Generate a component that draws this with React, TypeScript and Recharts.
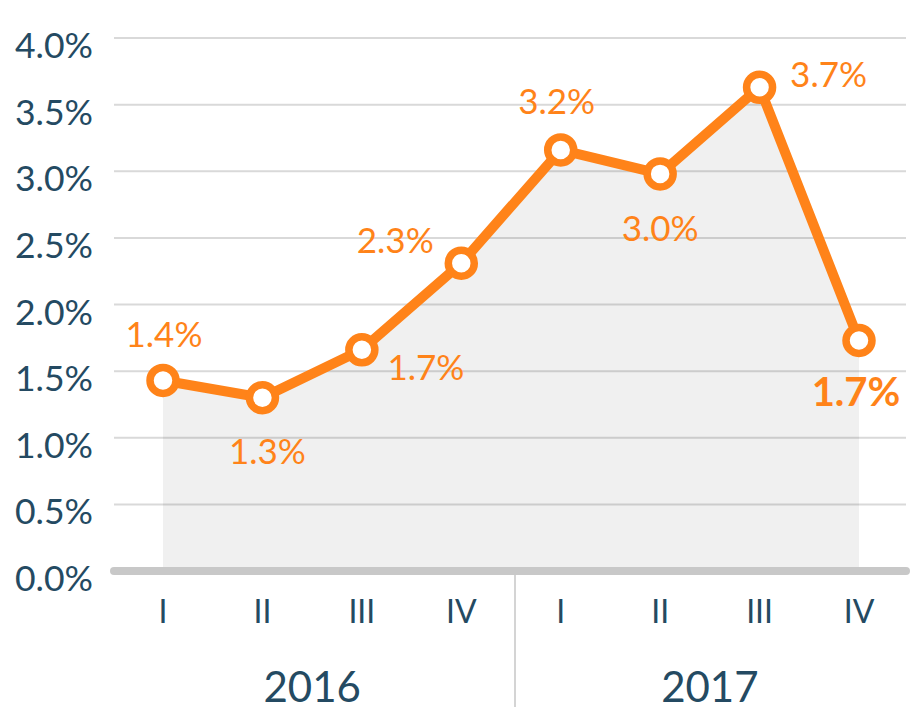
import { ComposedChart, Area, Line, XAxis, YAxis, CartesianGrid, LabelList } from "recharts";

const quarters = ["I", "II", "III", "IV", "I", "II", "III", "IV"];
const years = ["2016", "2017"];
const values = [1.43, 1.3, 1.66, 2.31, 3.16, 2.98, 3.63, 1.73];
const valueLabels = ["1.4%", "1.3%", "1.7%", "2.3%", "3.2%", "3.0%", "3.7%", "1.7%"];
const yTicks = [0, 0.5, 1, 1.5, 2, 2.5, 3, 3.5, 4];

// where each value label sits relative to its point
const labelOffsets = [
  [1, -45], [5, 54], [64, 18], [-66, -22],
  [-4, -48], [0, 55], [69, -12], [-3, 52],
];

const ORANGE = "#ff8319";
const INK = "#244a62";
const FONT = "Lato, 'Open Sans', sans-serif";

const data = values.map((v, i) => ({ q: quarters[i], pos: i, value: v }));
const perYear = quarters.length / years.length;
const yearTicks = years.map((_, i) => i * perYear + (perYear - 1) / 2);
const dividers = years.slice(1).map((_, i) => (i + 1) * perYear - 0.5);

const YTick = ({ x, y, payload }: any) => (
  <text x={x} y={y + 20} textAnchor="end" fill={INK} fontSize={35.5} fontFamily={FONT}>
    {payload.value.toFixed(1)}%
  </text>
);

const QuarterTick = ({ x, y, payload }: any) => (
  <text x={x} y={y + 52} textAnchor="middle" fill={INK} fontSize={32} fontFamily={FONT}>
    {payload.value}
  </text>
);

const YearTick = ({ x, y, payload }: any) => {
  const v = payload.value;
  if (dividers.includes(v)) {
    return <line x1={x + 4} x2={x + 4} y1={y - 76} y2={y + 56} stroke="#d4d4d4" strokeWidth={2} />;
  }
  const idx = yearTicks.indexOf(v);
  return (
    <text x={x} y={y + 51} textAnchor="middle" fill={INK} fontSize={42} fontFamily={FONT}>
      {years[idx]}
    </text>
  );
};

const ValueLabel = ({ x, y, index }: any) => {
  const [dx, dy] = labelOffsets[index];
  const last = index === values.length - 1;
  return (
    <text
      x={x + dx}
      y={y + dy + (last ? 14 : 12)}
      textAnchor="middle"
      fill={ORANGE}
      fontSize={last ? 40 : 35}
      fontWeight={last ? 700 : 400}
      fontFamily={FONT}
    >
      {valueLabels[index]}
    </text>
  );
};

export default function App() {
  return (
    <div style={{ position: "absolute", left: 0, top: 0, width: 911, height: 711, background: "#fff" }}>
      <ComposedChart width={911} height={711} data={data} margin={{ top: 38, right: 5, left: 0, bottom: 0 }}>
        <CartesianGrid vertical={false} stroke="#d9d9d9" strokeWidth={2} />
        <YAxis
          width={114}
          domain={[0, 4]}
          ticks={yTicks}
          axisLine={false}
          tickLine={false}
          tickSize={0}
          tickMargin={21}
          tick={<YTick />}
        />
        <XAxis
          dataKey="q"
          height={80}
          padding={{ left: 49, right: 47 }}
          axisLine={{ stroke: "#c8c8c8", strokeWidth: 8, strokeLinecap: "round" }}
          tickLine={false}
          tickSize={0}
          tickMargin={0}
          interval={0}
          tick={<QuarterTick />}
        />
        <XAxis
          xAxisId="year"
          type="number"
          dataKey="pos"
          domain={[0, quarters.length - 1]}
          ticks={[...yearTicks, ...dividers]}
          height={60}
          padding={{ left: 49, right: 47 }}
          axisLine={false}
          tickLine={false}
          tickSize={0}
          tickMargin={0}
          interval={0}
          tick={<YearTick />}
        />
        <Area
          dataKey="value"
          type="linear"
          stroke="none"
          fill="#000"
          fillOpacity={0.058}
          isAnimationActive={false}
        />
        <Line
          dataKey="value"
          type="linear"
          stroke={ORANGE}
          strokeWidth={10}
          strokeLinejoin="round"
          dot={{ r: 13, fill: "#fff", stroke: ORANGE, strokeWidth: 7.5 }}
          activeDot={false}
          isAnimationActive={false}
        >
          <LabelList dataKey="value" content={<ValueLabel />} />
        </Line>
      </ComposedChart>
    </div>
  );
}
